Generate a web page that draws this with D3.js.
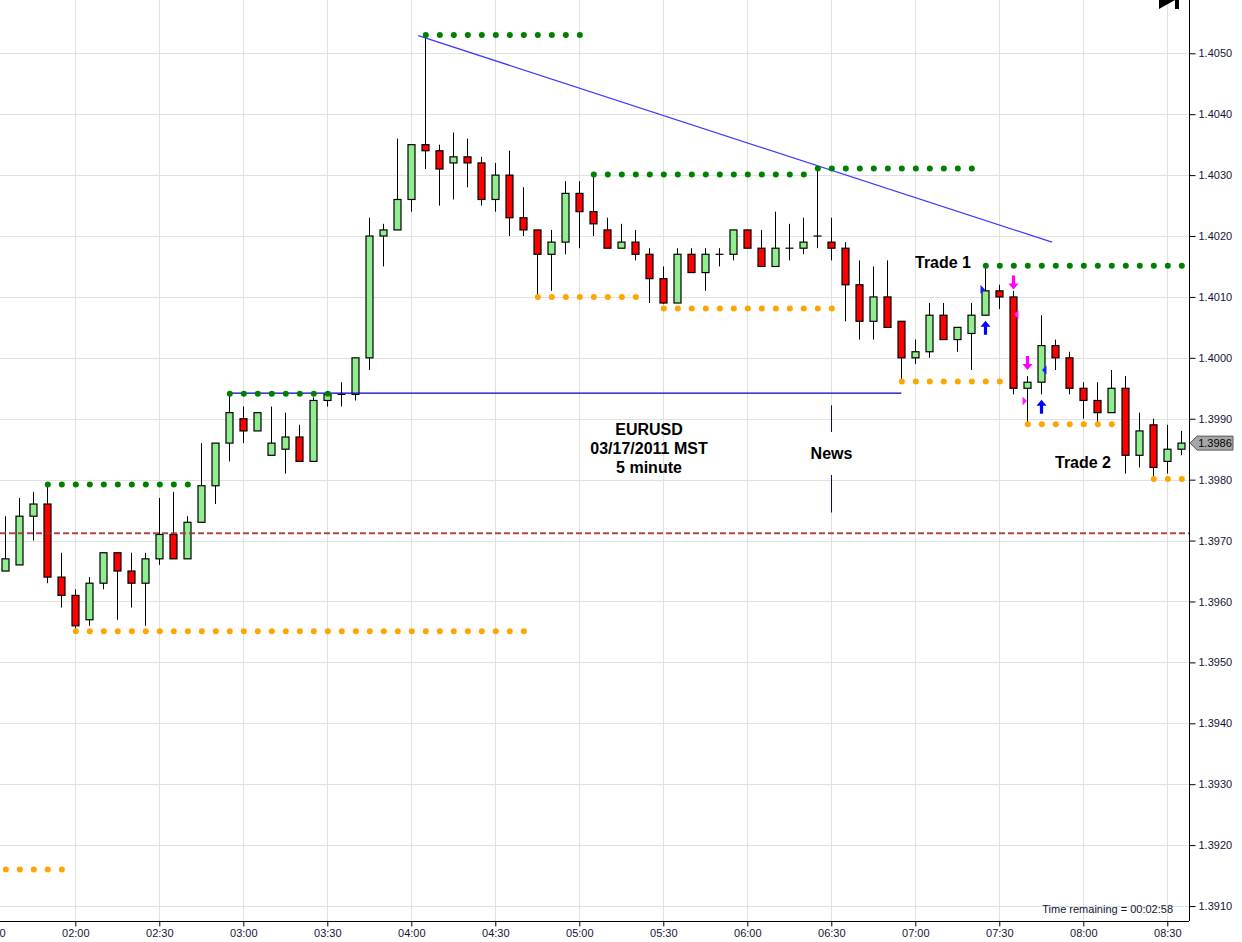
<!DOCTYPE html>
<html lang="en">
<head>
  <meta charset="UTF-8">
  <title>EURUSD 5 minute</title>
  <script src="https://cdnjs.cloudflare.com/ajax/libs/d3/7.8.5/d3.min.js"></script>
  <style>
    body { margin: 0; background: #fff; }
    svg { display: block; font-family: "Liberation Sans", Arial, sans-serif; }
    .axis text { font-size: 11px; fill: #141438; }
    .axis path, .axis line { stroke: #000; }
    .note { font-size: 16px; font-weight: bold; fill: #000; }
  </style>
</head>
<body>
  <div id="chart"></div>

  <script>
    // 5 minute bars, first bar at 01:35
    const firstBar = "01:35";
    const opens = [1.3965, 1.3966, 1.3974, 1.3976, 1.3964, 1.3961, 1.3957, 1.3963, 1.3968, 1.3965,
                   1.3963, 1.3967, 1.3971, 1.3967, 1.3973, 1.3979, 1.3986, 1.3990, 1.3988, 1.3984,
                   1.3985, 1.3987, 1.3983, 1.3993, 1.3994, 1.3994, 1.4000, 1.4020, 1.4021, 1.4026,
                   1.4035, 1.4034, 1.4032, 1.4033, 1.4032, 1.4026, 1.4030, 1.4023, 1.4021, 1.4017,
                   1.4019, 1.4027, 1.4024, 1.4021, 1.4018, 1.4019, 1.4017, 1.4013, 1.4009, 1.4017,
                   1.4014, 1.4017, 1.4017, 1.4021, 1.4018, 1.4015, 1.4018, 1.4018, 1.4020, 1.4019,
                   1.4018, 1.4012, 1.4006, 1.4010, 1.4006, 1.4000, 1.4001, 1.4007, 1.4003, 1.4004,
                   1.4007, 1.4011, 1.4010, 1.3995, 1.3996, 1.4002, 1.4000, 1.3995, 1.3993, 1.3991,
                   1.3995, 1.3984, 1.3989, 1.3983, 1.3985];
    const highs = [1.3974, 1.3977, 1.3978, 1.3979, 1.3968, 1.3962, 1.3964, 1.3968, 1.3968, 1.3968,
                   1.3968, 1.3977, 1.3978, 1.3974, 1.3986, 1.3986, 1.3994, 1.3992, 1.3991, 1.3992,
                   1.3991, 1.3989, 1.39935, 1.39942, 1.3996, 1.4000, 1.4023, 1.4022, 1.4036, 1.4035,
                   1.4053, 1.4035, 1.4037, 1.4036, 1.4033, 1.4032, 1.4034, 1.4028, 1.4021, 1.4021,
                   1.4029, 1.4029, 1.4030, 1.4023, 1.4022, 1.4021, 1.4018, 1.4015, 1.4018, 1.4018,
                   1.4018, 1.4018, 1.4021, 1.4021, 1.4021, 1.4024, 1.4022, 1.4023, 1.4031, 1.4023,
                   1.4019, 1.4016, 1.4015, 1.4016, 1.4006, 1.4003, 1.4009, 1.4009, 1.4005, 1.4009,
                   1.4015, 1.4012, 1.4011, 1.3997, 1.4007, 1.4003, 1.4001, 1.3996, 1.3996, 1.3998,
                   1.3997, 1.3991, 1.3990, 1.3989, 1.3988];
    const lows = [1.3965, 1.3966, 1.3970, 1.3963, 1.3959, 1.39555, 1.3956, 1.3962, 1.3957, 1.3959,
                  1.3956, 1.3966, 1.3967, 1.3967, 1.3973, 1.3976, 1.3983, 1.3986, 1.3988, 1.3984,
                  1.3981, 1.3983, 1.3983, 1.3992, 1.3992, 1.3993, 1.3998, 1.4015, 1.4021, 1.4024,
                  1.4031, 1.4025, 1.4026, 1.4028, 1.4025, 1.4024, 1.4020, 1.4020, 1.4010, 1.4011,
                  1.4017, 1.4018, 1.4020, 1.4018, 1.4018, 1.4016, 1.4009, 1.40088, 1.4009, 1.4014,
                  1.4011, 1.4015, 1.4016, 1.4018, 1.4015, 1.4015, 1.4016, 1.4017, 1.4018, 1.4016,
                  1.4006, 1.4003, 1.4003, 1.4005, 1.39965, 1.3999, 1.4000, 1.4003, 1.4001, 1.3998,
                  1.4007, 1.4008, 1.3994, 1.3989, 1.3994, 1.3998, 1.3994, 1.3990, 1.39895, 1.3991,
                  1.3981, 1.3982, 1.39805, 1.3981, 1.3984];
    const closes = [1.3967, 1.3974, 1.3976, 1.3964, 1.3961, 1.3956, 1.3963, 1.3968, 1.3965, 1.3963,
                    1.3967, 1.3971, 1.3967, 1.3973, 1.3979, 1.3986, 1.3991, 1.3988, 1.3991, 1.3986,
                    1.3987, 1.3983, 1.3993, 1.3994, 1.3994, 1.4000, 1.4020, 1.4021, 1.4026, 1.4035,
                    1.4034, 1.4031, 1.4033, 1.4032, 1.4026, 1.4030, 1.4023, 1.4021, 1.4017, 1.4019,
                    1.4027, 1.4024, 1.4022, 1.4018, 1.4019, 1.4017, 1.4013, 1.4009, 1.4017, 1.4014,
                    1.4017, 1.4017, 1.4021, 1.4018, 1.4015, 1.4018, 1.4018, 1.4019, 1.4020, 1.4018,
                    1.4012, 1.4006, 1.4010, 1.4005, 1.4000, 1.4001, 1.4007, 1.4003, 1.4005, 1.4007,
                    1.4011, 1.4010, 1.3995, 1.3996, 1.4002, 1.4000, 1.3995, 1.3993, 1.3991, 1.3995,
                    1.3984, 1.3988, 1.3982, 1.3985, 1.3986];

    // dotted swing levels: [price, first bar, last bar]
    const greenLevels = [
      [1.39792, "01:50", "02:40"],
      [1.39941, "02:55", "03:30"],
      [1.40530, "04:05", "05:00"],
      [1.40301, "05:05", "06:20"],
      [1.40311, "06:25", "07:20"],
      [1.40151, "07:25", "08:35"]
    ];
    const orangeLevels = [
      [1.39160, "01:35", "01:55"],
      [1.39551, "02:00", "04:40"],
      [1.40100, "04:45", "05:20"],
      [1.40081, "05:30", "06:30"],
      [1.39961, "06:55", "07:30"],
      [1.39891, "07:40", "08:10"],
      [1.39801, "08:25", "08:35"]
    ];

    const dashedLevel = 1.39712;
    const blueLevel = [1.39942, "02:55", "06:55"];
    const trendLine = [["04:02:30", 1.40529], ["07:48:50", 1.40190]];
    const newsLine = ["06:30", 1.39922, 1.39746];
    const lastPrice = 1.3986;

    // trade markers: [time, price at arrow tip, kind]
    const arrows = [["07:25", 1.40061, "up"], ["07:35", 1.40112, "down"],
                    ["07:40", 1.39980, "down"], ["07:45", 1.39931, "up"]];
    const fills = [["07:25", 1.40112, "right", "#1a1aff"], ["07:35", 1.40071, "left", "#ff22ff"],
                   ["07:40", 1.39929, "right", "#ff22ff"], ["07:45", 1.39980, "left", "#1a1aff"]];

    const priceTicks = d3.range(1391, 1406).map(d => d / 1000);
    const timeTicks = ["01:30", "02:00", "02:30", "03:00", "03:30", "04:00", "04:30", "05:00",
                       "05:30", "06:00", "06:30", "07:00", "07:30", "08:00", "08:30"];

    const W = 1242, H = 942;
    const plotW = 1189, plotH = 921;

    const parseT = s => {
      const p = s.split(":").map(Number);
      return new Date(2011, 2, 17, p[0], p[1], p[2] || 0);
    };

    const start = parseT(firstBar);
    const bars = opens.map((o, i) => ({
      t: new Date(start.getTime() + i * 5 * 60000),
      o: o, h: highs[i], l: lows[i], c: closes[i]
    }));
    const barTimes = t0 => bars.filter(b => b.t >= parseT(t0[0]) && b.t <= parseT(t0[1]));

    const x = d3.scaleTime()
      .domain([parseT("01:33:06"), parseT("08:37:45")])
      .range([0, plotW]);
    const y = d3.scaleLinear()
      .domain([1.390754, 1.405875])
      .range([plotH, 0]);

    const svg = d3.select("#chart").append("svg")
      .attr("width", W)
      .attr("height", H);

    const defs = svg.append("defs");
    defs.append("clipPath").attr("id", "plot")
      .append("rect").attr("width", plotW).attr("height", plotH);

    // grid
    const grid = svg.append("g").attr("stroke", "#e1e1e1").attr("stroke-width", 1);
    grid.selectAll(".h").data(priceTicks).enter().append("line")
      .attr("x1", 0).attr("x2", plotW)
      .attr("y1", d => Math.round(y(d)) + 0.5).attr("y2", d => Math.round(y(d)) + 0.5);
    grid.selectAll(".v").data(timeTicks.map(parseT)).enter().append("line")
      .attr("y1", 0).attr("y2", plotH)
      .attr("x1", d => Math.round(x(d)) + 0.5).attr("x2", d => Math.round(x(d)) + 0.5);

    const plot = svg.append("g").attr("clip-path", "url(#plot)");

    // candles
    const candle = plot.selectAll(".candle").data(bars).enter().append("g");
    candle.append("line")
      .attr("x1", d => Math.round(x(d.t)) + 0.5).attr("x2", d => Math.round(x(d.t)) + 0.5)
      .attr("y1", d => y(d.h)).attr("y2", d => y(d.l))
      .attr("stroke", "#000");
    candle.filter(d => d.o !== d.c).append("rect")
      .attr("x", d => Math.round(x(d.t)) - 3)
      .attr("width", 7)
      .attr("y", d => y(Math.max(d.o, d.c)))
      .attr("height", d => Math.abs(y(d.o) - y(d.c)))
      .attr("fill", d => d.c > d.o ? "#90ee90" : "#ff0000")
      .attr("stroke", "#000").attr("stroke-width", 1.2);
    candle.filter(d => d.o === d.c).append("line")
      .attr("x1", d => Math.round(x(d.t)) - 3.5).attr("x2", d => Math.round(x(d.t)) + 4.5)
      .attr("y1", d => y(d.o)).attr("y2", d => y(d.o))
      .attr("stroke", "#000").attr("stroke-width", 1.2);

    // red dashed level
    plot.append("line")
      .attr("x1", 0).attr("x2", plotW)
      .attr("y1", y(dashedLevel)).attr("y2", y(dashedLevel))
      .attr("stroke", "#a83232").attr("stroke-opacity", 0.9)
      .attr("stroke-width", 2).attr("stroke-dasharray", "6,3");

    // blue horizontal and trend line
    plot.append("line")
      .attr("x1", x(parseT(blueLevel[1]))).attr("x2", x(parseT(blueLevel[2])))
      .attr("y1", y(blueLevel[0])).attr("y2", y(blueLevel[0]))
      .attr("stroke", "#0000cc").attr("stroke-width", 1.2);
    plot.append("line")
      .attr("x1", x(parseT(trendLine[0][0]))).attr("y1", y(trendLine[0][1]))
      .attr("x2", x(parseT(trendLine[1][0]))).attr("y2", y(trendLine[1][1]))
      .attr("stroke", "#3a3aff").attr("stroke-width", 1.2);

    // dotted levels
    function dots(levels, color) {
      levels.forEach(lv => {
        plot.append("g").selectAll("circle").data(barTimes([lv[1], lv[2]])).enter()
          .append("circle")
          .attr("cx", d => x(d.t) + 0.5)
          .attr("cy", y(lv[0]))
          .attr("r", 3)
          .attr("fill", color);
      });
    }
    dots(greenLevels, "#008000");
    dots(orangeLevels, "#ffa500");

    // news marker
    const nx = Math.round(x(parseT(newsLine[0]))) + 0.5;
    plot.append("line")
      .attr("x1", nx).attr("x2", nx)
      .attr("y1", y(newsLine[1])).attr("y2", y(newsLine[2]))
      .attr("stroke", "#0000cc");
    plot.append("rect")
      .attr("x", nx - 24).attr("y", 432).attr("width", 48).attr("height", 43)
      .attr("fill", "#fff");
    plot.append("text").attr("class", "note")
      .attr("x", nx).attr("y", 459).attr("text-anchor", "middle").text("News");

    // title block
    const title = plot.append("text").attr("class", "note").attr("text-anchor", "middle");
    ["EURUSD", "03/17/2011 MST", "5 minute"].forEach((s, i) => {
      title.append("tspan").attr("x", 649).attr("y", 435 + i * 19).text(s);
    });

    plot.append("text").attr("class", "note")
      .attr("x", 943).attr("y", 268).attr("text-anchor", "middle").text("Trade 1");
    plot.append("text").attr("class", "note")
      .attr("x", 1083).attr("y", 468).attr("text-anchor", "middle").text("Trade 2");

    // trade arrows
    const upArrow = "M0,0 L5,6 L1.6,6 L1.6,14 L-1.6,14 L-1.6,6 L-5,6 Z";
    arrows.forEach(a => {
      const ax = Math.round(x(parseT(a[0]))) + 0.5;
      const ay = y(a[1]);
      plot.append("path")
        .attr("d", upArrow)
        .attr("fill", a[2] === "up" ? "#0000ff" : "#ff00ff")
        .attr("transform", a[2] === "up"
          ? `translate(${ax},${ay})`
          : `translate(${ax},${ay}) scale(1,-1)`);
    });
    fills.forEach(f => {
      const cx = Math.round(x(parseT(f[0]))) + 0.5;
      const cy = y(f[1]);
      const d = f[2] === "right"
        ? `M${cx - 0.5},${cy} L${cx - 5},${cy - 4.5} L${cx - 5},${cy + 4.5} Z`
        : `M${cx + 0.5},${cy} L${cx + 5},${cy - 4.5} L${cx + 5},${cy + 4.5} Z`;
      plot.append("path").attr("d", d).attr("fill", f[3]);
    });

    // axes
    svg.append("g")
      .attr("class", "axis")
      .attr("transform", `translate(${plotW + 0.5},0)`)
      .call(d3.axisRight(y).tickValues(priceTicks).tickSize(6).tickSizeOuter(0)
        .tickFormat(d3.format(".4f")))
      .call(g => g.select(".domain").attr("d", `M0,0V${plotH}`));

    svg.append("g")
      .attr("class", "axis")
      .attr("transform", `translate(0,${plotH + 0.5})`)
      .call(d3.axisBottom(x).tickValues(timeTicks.map(parseT)).tickSize(5).tickSizeOuter(0)
        .tickFormat(d3.timeFormat("%H:%M")))
      .call(g => g.select(".domain").attr("d", `M0,0H${plotW}`));

    // last price marker
    const ly = y(lastPrice);
    svg.append("path")
      .attr("d", `M${plotW + 1},${ly} L${plotW + 8},${ly - 7} L${plotW + 44},${ly - 7} L${plotW + 44},${ly + 7} L${plotW + 8},${ly + 7} Z`)
      .attr("fill", "#a6a6a6").attr("stroke", "#5a5a5a");
    svg.append("text")
      .attr("x", plotW + 26).attr("y", ly + 4)
      .attr("text-anchor", "middle")
      .style("font-size", "11px").style("fill", "#000")
      .text(d3.format(".4f")(lastPrice));

    svg.append("text")
      .attr("x", 1173).attr("y", 913)
      .attr("text-anchor", "end")
      .style("font-size", "11px").style("fill", "#141438")
      .text("Time remaining = 00:02:58");

    // scroll-to-end icon
    svg.append("path")
      .attr("d", "M1159,0 L1175,0 L1159,9 Z M1175,0 L1179,0 L1179,9 L1175,9 Z")
      .attr("fill", "#000");
  </script>
</body>
</html>
